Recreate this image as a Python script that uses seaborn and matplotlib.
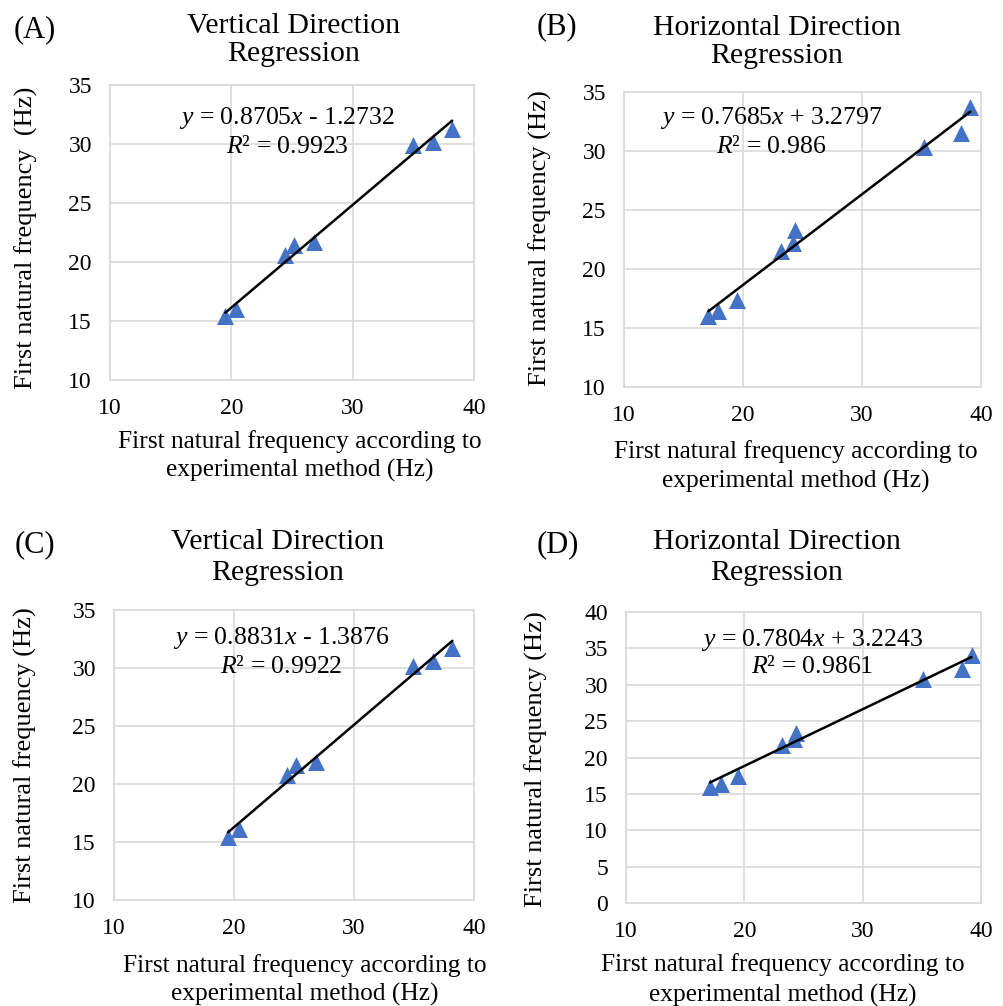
import matplotlib
matplotlib.use("Agg")
import matplotlib.pyplot as plt
import seaborn as sns

# ------------------------------
# Style
# ------------------------------
sns.set_style("whitegrid")
plt.rcParams['font.family'] = ['Liberation Serif', 'DejaVu Serif']
plt.rcParams['mathtext.fontset'] = 'custom'
plt.rcParams['mathtext.rm'] = 'Liberation Serif'
plt.rcParams['mathtext.it'] = 'Liberation Serif:italic'
plt.rcParams['text.color'] = 'black'

BLUE = "#4472C4"
GRID = "#D9D9D9"

# ------------------------------
# Data
# ------------------------------
vert_a_x = [19.5, 20.4, 24.4, 25.2, 26.8, 35.0, 36.6, 38.2]
vert_a_y = [15.4, 16.0, 20.6, 21.4, 21.7, 29.9, 30.2, 31.3]

horiz_b_x = [17.1, 17.9, 19.5, 23.2, 24.2, 24.4, 35.2, 38.3, 39.1]
horiz_b_y = [16.0, 16.4, 17.4, 21.5, 22.2, 23.3, 30.3, 31.5, 33.7]

vert_c_x = [19.5, 20.4, 24.4, 25.2, 26.8, 34.9, 36.6, 38.2]
vert_c_y = [15.4, 16.1, 20.8, 21.6, 21.9, 30.2, 30.6, 31.7]

horiz_d_x = [17.1, 18.0, 19.5, 23.2, 24.2, 24.4, 35.1, 38.4, 39.2]
horiz_d_y = [16.0, 16.4, 17.5, 21.7, 22.6, 23.4, 30.8, 32.1, 34.1]

slopes = [0.8705, 0.7685, 0.8831, 0.7804]
intercepts = [-1.2732, 3.2797, -1.3876, 3.2243]
r_squared = ["0.9923", "0.986", "0.9922", "0.9861"]

panel_tags = ["(A)", "(B)", "(C)", "(D)"]
titles = ["Vertical Direction", "Horizontal Direction",
          "Vertical Direction", "Horizontal Direction"]
ylabels = ["First natural frequency  (Hz)", "First natural frequency (Hz)",
           "First natural frequency (Hz)", "First natural frequency (Hz)"]
ylims = [(10, 35), (10, 35), (10, 35), (0, 40)]

xs = [vert_a_x, horiz_b_x, vert_c_x, horiz_d_x]
ys = [vert_a_y, horiz_b_y, vert_c_y, horiz_d_y]

# ------------------------------
# Layout in pixels (left, top, right, bottom)
# ------------------------------
W, H = 1004, 1006
boxes = [(110, 85, 474, 380), (624, 92, 981, 387),
         (114, 610, 474, 900), (626, 612, 981, 903)]
tag_pos = [(35, 30), (557, 27), (35, 545), (558, 545)]
title_pos = [(294, 26, 54), (777, 28, 56), (278, 542, 573), (777, 542, 573)]
ylabel_pos = [(26, 238), (540, 238), (25, 755), (536, 759)]
xlabel_pos = [(300, 442, 470), (796, 452, 481), (305, 966, 994), (783, 965, 995)]
eq_pos = [(287, 118, 147), (771, 118, 147), (281, 638, 667), (812, 640, 667)]


def fx(x):
    return x / W


def fy(y):
    return 1 - y / H


fig = plt.figure(figsize=(W / 100, H / 100), dpi=100)

for i in range(4):
    l, t, r, b = boxes[i]
    ax = fig.add_axes([fx(l), fy(b), (r - l) / W, (b - t) / H])

    # regression line from the reported equation
    x0, x1 = min(xs[i]), max(xs[i])
    sns.lineplot(x=[x0, x1], y=[slopes[i] * x0 + intercepts[i], slopes[i] * x1 + intercepts[i]],
                 ax=ax, color="black", linewidth=1.8, zorder=3)
    sns.scatterplot(x=xs[i], y=ys[i], ax=ax, marker="^", s=150, color=BLUE,
                    linewidth=0, zorder=2)

    ax.set_xlim(10, 40)
    ax.set_ylim(*ylims[i])
    ax.set_xticks([10, 20, 30, 40])
    ax.set_yticks(range(ylims[i][0], ylims[i][1] + 1, 5))
    ax.grid(True, color=GRID, linewidth=1.2)
    for sp in ax.spines.values():
        sp.set_color(GRID)
        sp.set_linewidth(1.2)
    ax.tick_params(axis="both", length=0, labelsize=17, colors="black")
    ax.tick_params(axis="y", pad=13)
    ax.tick_params(axis="x", pad=13)
    ax.set_xlabel("")
    ax.set_ylabel("")

    # texts
    fig.text(fx(tag_pos[i][0]), fy(tag_pos[i][1]), panel_tags[i], fontsize=22,
             ha="center", va="center")
    tx, ty1, ty2 = title_pos[i]
    fig.text(fx(tx), fy(ty1), titles[i], fontsize=21.5, ha="center", va="center")
    fig.text(fx(tx), fy(ty2), "Regression", fontsize=21.5, ha="center", va="center")
    fig.text(fx(ylabel_pos[i][0]), fy(ylabel_pos[i][1]), ylabels[i], fontsize=19,
             rotation=90, ha="center", va="center")
    lx, ly1, ly2 = xlabel_pos[i]
    fig.text(fx(lx), fy(ly1), "First natural frequency according to", fontsize=18.3,
             ha="center", va="center")
    fig.text(fx(lx), fy(ly2), "experimental method (Hz)", fontsize=18.3,
             ha="center", va="center")

    sign = "-" if intercepts[i] < 0 else "+"
    eq = f"$y$ = {slopes[i]:.4f}$x$ {sign} {abs(intercepts[i]):.4f}"
    ex, ey1, ey2 = eq_pos[i]
    fig.text(fx(ex), fy(ey1), eq, fontsize=18.5, ha="center", va="center")
    fig.text(fx(ex), fy(ey2), f"$R$² = {r_squared[i]}", fontsize=18.5,
             ha="center", va="center")

fig.savefig("out.png", dpi=100)
